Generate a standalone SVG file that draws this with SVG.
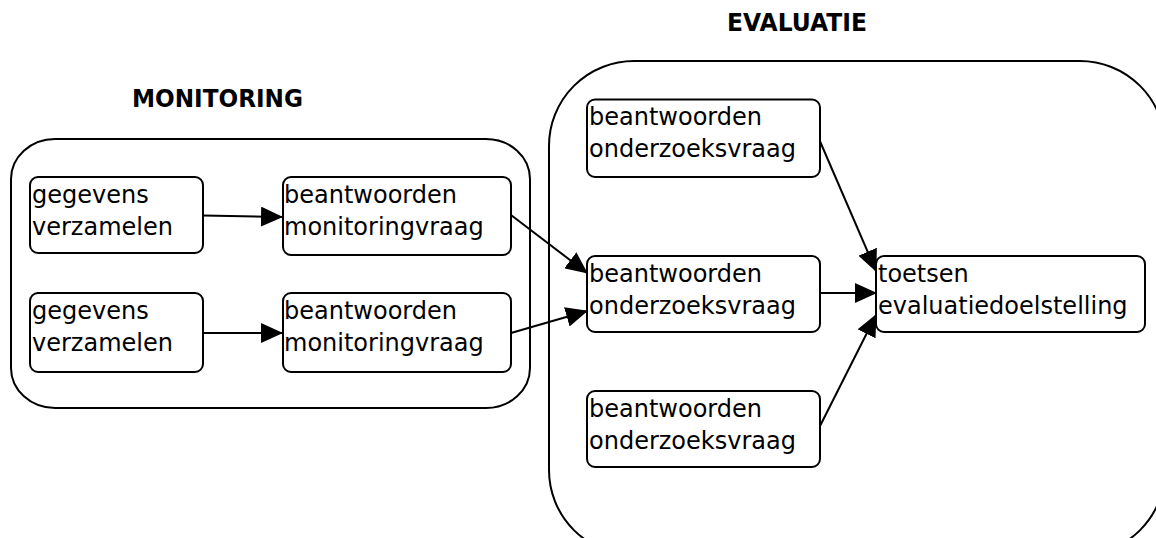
<svg xmlns="http://www.w3.org/2000/svg" width="1156" height="538" viewBox="0 0 1156 538">
<style>
.container{fill:none;stroke:#000;stroke-width:2}
.box{fill:#fff;stroke:#000;stroke-width:2}
.lbl{font-family:"DejaVu Sans",sans-serif;font-size:24px;fill:#000}
.title{font-family:"DejaVu Sans",sans-serif;font-size:25px;font-weight:bold;fill:#000}
.conn{stroke:#000;stroke-width:2;fill:none;marker-end:url(#arr)}
</style>
<defs>
<marker id="arr" markerUnits="userSpaceOnUse" markerWidth="22" markerHeight="20" refX="21" refY="10" orient="auto">
<path d="M0,0 L22,10 L0,20 z" fill="#000"/>
</marker>
</defs>
<rect width="1156" height="538" fill="#fff"/>
<g id="monitoring">
<rect class="container" x="11" y="139" width="519" height="269" rx="44" ry="40"/>
<text class="title" x="132" y="107" textLength="171" lengthAdjust="spacingAndGlyphs">MONITORING</text>
</g>
<g id="evaluatie">
<rect class="container" x="549" y="61" width="616" height="494" rx="85" ry="85"/>
<text class="title" x="727" y="31" textLength="140" lengthAdjust="spacingAndGlyphs">EVALUATIE</text>
</g>
<g id="connectors">
<line class="conn" x1="203" y1="215.5" x2="282" y2="217"/>
<line class="conn" x1="203" y1="333" x2="282" y2="333"/>
<line class="conn" x1="511" y1="215" x2="587" y2="273"/>
<line class="conn" x1="511" y1="333" x2="587" y2="311"/>
<line class="conn" x1="820" y1="293" x2="876" y2="293"/>
<line class="conn" x1="819" y1="139" x2="876" y2="271"/>
<line class="conn" x1="819" y1="428" x2="876" y2="315"/>
</g>
<g id="g1">
<rect class="box" x="30" y="177" width="173" height="76" rx="8"/>
<text class="lbl" x="32" y="203">gegevens</text>
<text class="lbl" x="32" y="235">verzamelen</text>
</g>
<g id="b1">
<rect class="box" x="283" y="177" width="228" height="78" rx="8"/>
<text class="lbl" x="284" y="203">beantwoorden</text>
<text class="lbl" x="284" y="235">monitoringvraag</text>
</g>
<g id="g2">
<rect class="box" x="30" y="293" width="173" height="79" rx="8"/>
<text class="lbl" x="32" y="319">gegevens</text>
<text class="lbl" x="32" y="351">verzamelen</text>
</g>
<g id="b2">
<rect class="box" x="283" y="293" width="228" height="79" rx="8"/>
<text class="lbl" x="284" y="319">beantwoorden</text>
<text class="lbl" x="284" y="351">monitoringvraag</text>
</g>
<g id="e1">
<rect class="box" x="587" y="99.5" width="233" height="77.5" rx="8"/>
<text class="lbl" x="589" y="125">beantwoorden</text>
<text class="lbl" x="589" y="157">onderzoeksvraag</text>
</g>
<g id="e2">
<rect class="box" x="587" y="256" width="233" height="76" rx="8"/>
<text class="lbl" x="589" y="282">beantwoorden</text>
<text class="lbl" x="589" y="314">onderzoeksvraag</text>
</g>
<g id="e3">
<rect class="box" x="587" y="391" width="233" height="76" rx="8"/>
<text class="lbl" x="589" y="417">beantwoorden</text>
<text class="lbl" x="589" y="449">onderzoeksvraag</text>
</g>
<g id="t">
<rect class="box" x="876" y="256" width="269" height="76" rx="8"/>
<text class="lbl" x="878" y="282">toetsen</text>
<text class="lbl" x="878" y="314">evaluatiedoelstelling</text>
</g>
</svg>
